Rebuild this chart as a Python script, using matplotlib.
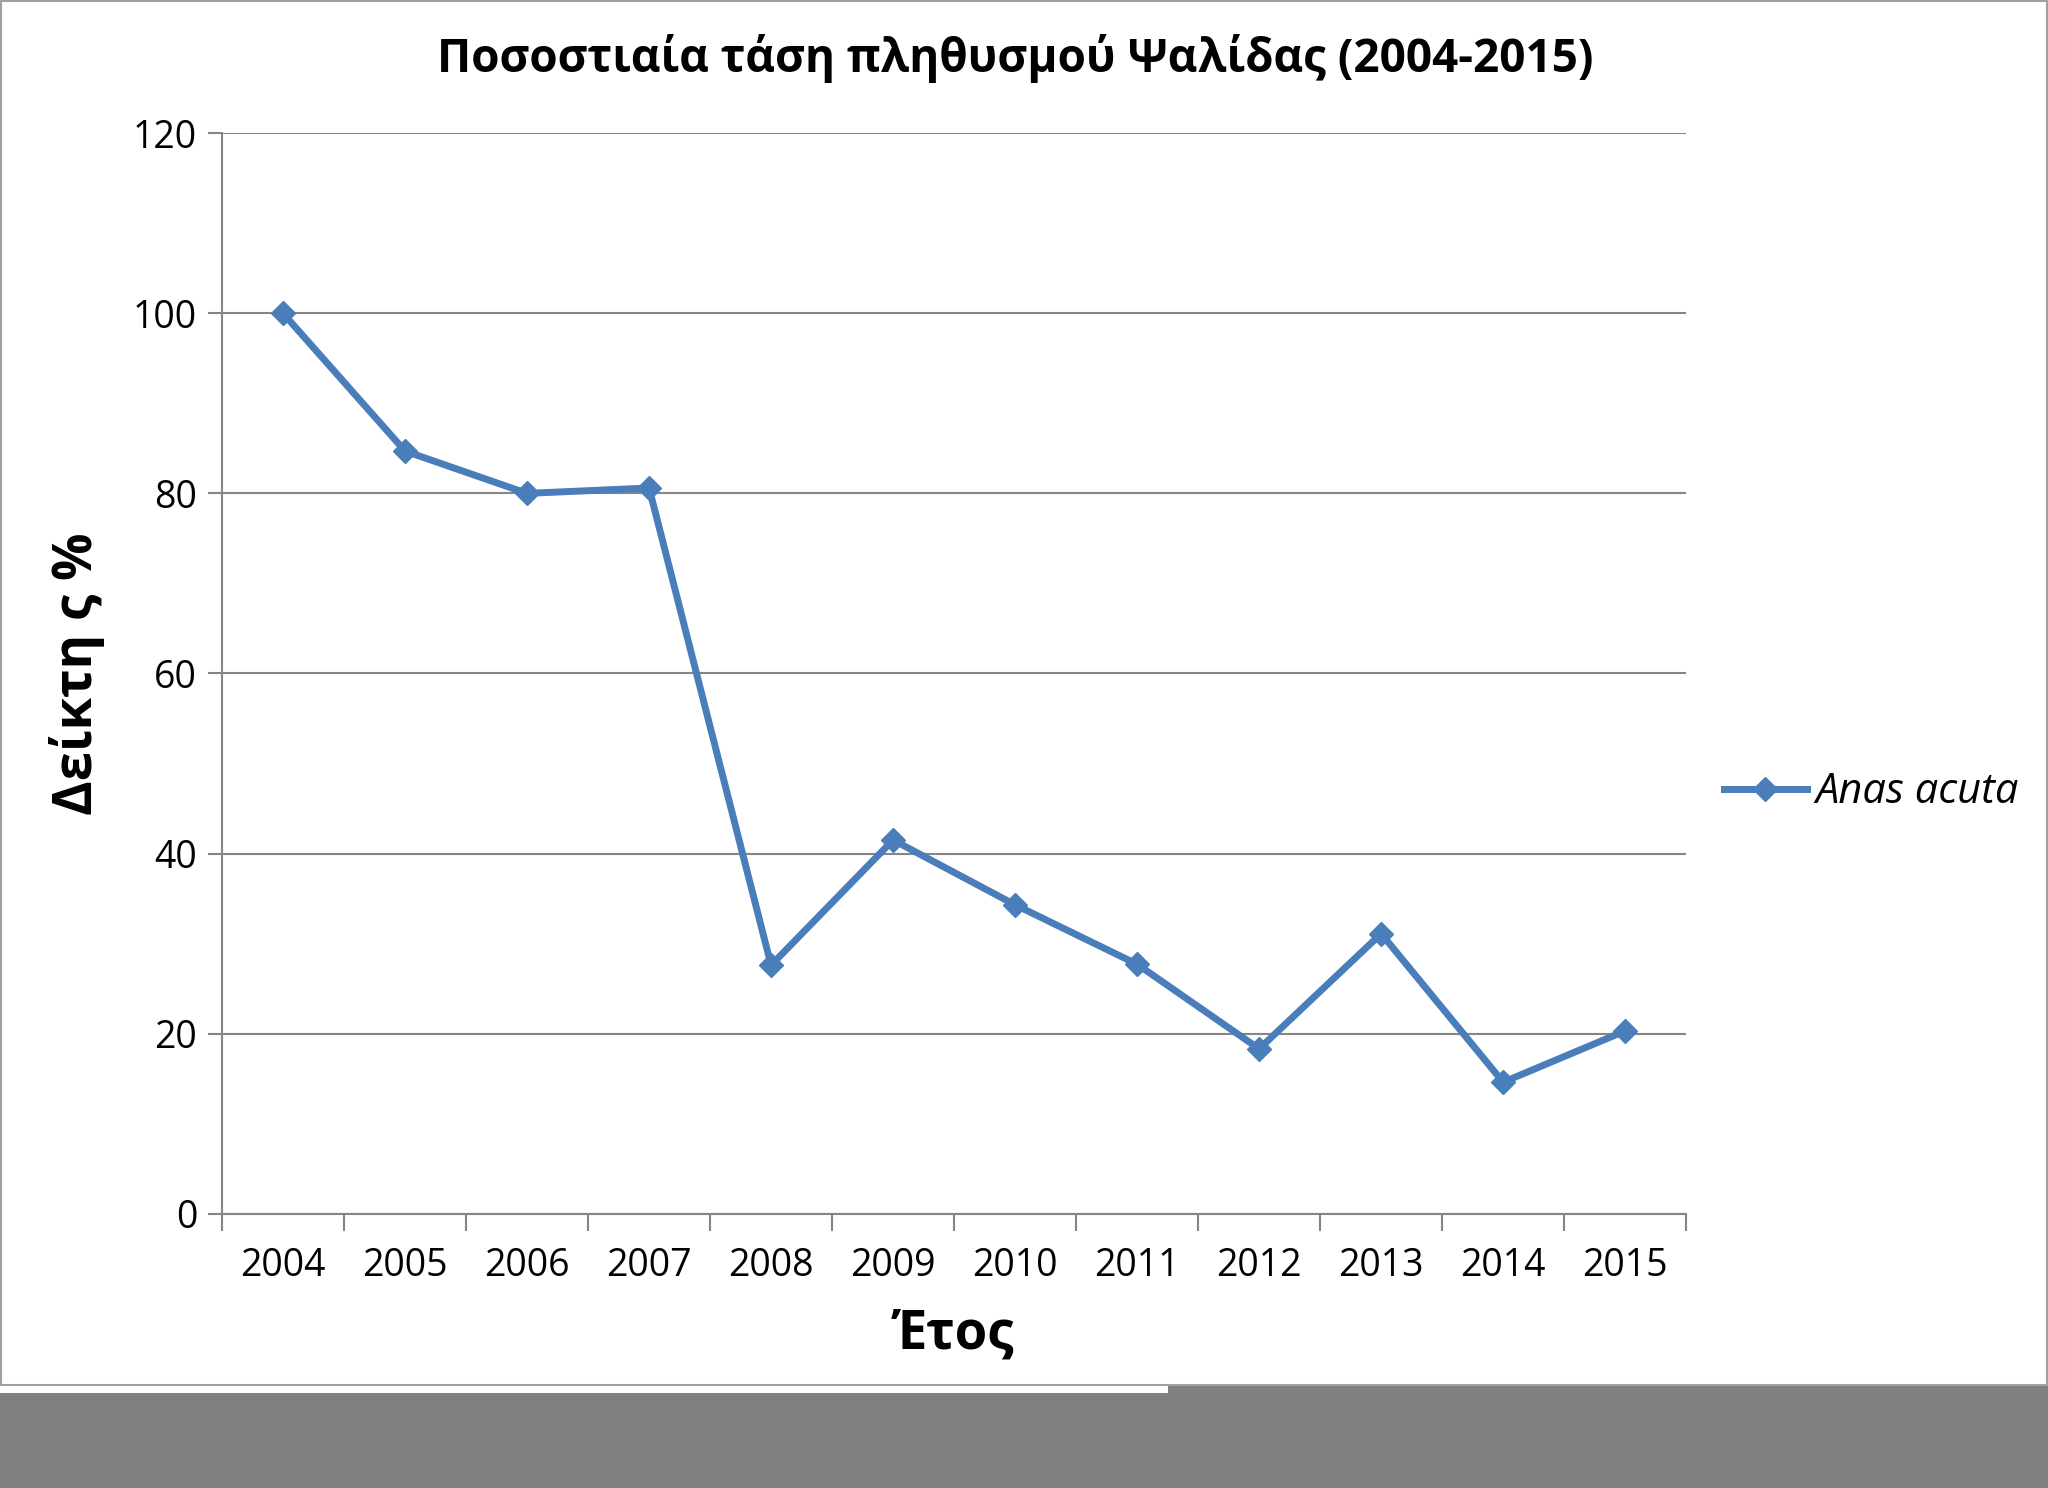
import matplotlib
matplotlib.use("Agg")
import matplotlib.pyplot as plt
from matplotlib.patches import Rectangle

years = ["2004","2005","2006","2007","2008","2009","2010","2011","2012","2013","2014","2015"]
values = [100, 84.7, 80.0, 80.6, 27.6, 41.5, 34.3, 27.7, 18.3, 31.1, 14.6, 20.3]
yticks = [0, 20, 40, 60, 80, 100, 120]

plt.rcParams['font.family'] = ['Open Sans', 'DejaVu Sans']
W, H = 1568, 1139
fig = plt.figure(figsize=(20.48, 14.88), dpi=100)
ax = fig.add_axes([170/W, 1-929/H, (1291-170)/W, (929-102)/H])

x = list(range(len(years)))
ax.plot(x, values, color='#4a7ebb', lw=5, marker='D', ms=12, label='Anas acuta')
ax.set_xlim(-0.5, len(years)-0.5)
ax.set_ylim(0, 120)
ax.set_yticks(yticks)
ax.set_xticks([i-0.5 for i in range(len(years)+1)], minor=False)
ax.set_xticklabels([])
ax.set_xticks(x, minor=True)
ax.set_xticklabels(years, minor=True)
ax.tick_params(axis='x', which='minor', length=0, labelsize=27, pad=24)
ax.tick_params(axis='x', which='major', length=12, color='#868686', width=1.5)
ax.tick_params(axis='y', length=10, labelsize=27, color='#868686', width=1.5, pad=8)
ax.grid(axis='y', color='#868686', lw=1.5)
ax.set_axisbelow(True)
for s in ['top', 'right']:
    ax.spines[s].set_visible(False)
for s in ['left', 'bottom']:
    ax.spines[s].set_color('#868686'); ax.spines[s].set_linewidth(1.5)

ax.set_xlabel('Έτος', fontsize=38, fontweight='bold', labelpad=16)
ax.set_ylabel('Δείκτη ς %', fontsize=38, fontweight='bold', labelpad=20)
fig.text((170+1291)/2/W + 0.03, 1-45/H, 'Ποσοστιαία τάση πληθυσμού Ψαλίδας (2004-2015)',
         ha='center', va='center', fontsize=33, fontweight='bold')
leg = ax.legend(loc='center left', bbox_to_anchor=(1.0, 0.39), frameon=False,
                prop={'size': 30, 'style': 'italic'}, handlelength=2, handletextpad=0.2)

fig.add_artist(Rectangle((0, 0), 894/W, 1-1066/H, transform=fig.transFigure, color='#808080', lw=0))
fig.add_artist(Rectangle((894/W, 0), 1-894/W, 1-1060/H, transform=fig.transFigure, color='#808080', lw=0))
fig.add_artist(Rectangle((0.0005, 1-1060/H), 0.999, 1060/H-0.001, transform=fig.transFigure,
                         fill=False, ec='#a0a0a0', lw=1.5))
fig.savefig('out.png', dpi=100, facecolor='white')
